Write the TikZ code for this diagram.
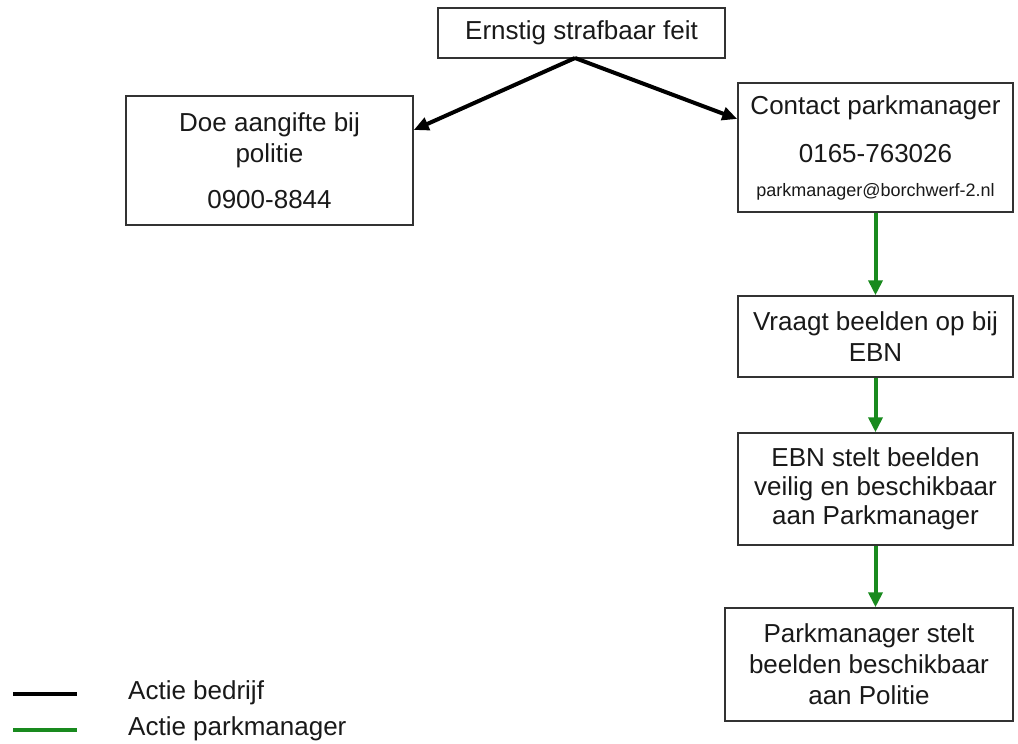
\documentclass[tikz,border=0pt]{standalone}
\usepackage{fontspec}
\setmainfont{Liberation Sans}
\usetikzlibrary{arrows.meta,calc}
\definecolor{boxline}{RGB}{50,50,50}
\definecolor{txt}{RGB}{25,25,25}
\definecolor{pmgreen}{RGB}{25,138,30}
\begin{document}
\begin{tikzpicture}[x=1pt,y=-1pt,
  box/.style={draw=boxline, line width=1.5pt, text=txt, align=center, inner sep=0pt, font=\fontsize{26}{31}\selectfont},
  bedrijf/.style={draw=black, line width=4pt, -{Triangle[length=15pt,width=13pt]}},
  pm/.style={draw=pmgreen, line width=4pt, -{Triangle[length=15pt,width=14pt]}},
  legline/.style={line width=4pt},
  legtext/.style={anchor=west, text=txt, font=\fontsize{26}{31}\selectfont, inner sep=0pt}]
\useasboundingbox (0,0) rectangle (1018,744);

\node[box, minimum width=287pt, minimum height=50pt] (feit) at (581.5,33) {Ernstig strafbaar feit};
\node[box, minimum width=287pt, minimum height=129pt] (aangifte) at (269.5,160.5)
  {Doe aangifte bij\\ politie\\[15pt] 0900-8844};
\node[box, minimum width=275pt, minimum height=129pt] (contact) at (875.5,147.5)
  {Contact parkmanager\\[17pt] 0165-763026\\[3pt] {\fontsize{18}{22}\selectfont parkmanager@borchwerf-2.nl}};
\node[box, minimum width=275pt, minimum height=81pt] (vraagt) at (875.5,336.5)
  {Vraagt beelden op bij\\ EBN};
\node[box, minimum width=275pt, minimum height=112pt] (ebn) at (875.5,489)
  {EBN stelt beelden\\[-2pt] veilig en beschikbaar\\[-2pt] aan Parkmanager};
\node[box, minimum width=288pt, minimum height=113pt] (park) at (869,664.5)
  {Parkmanager stelt\\ beelden beschikbaar\\ aan Politie};

\coordinate (split) at (575,58);
\draw[bedrijf] (split) -- (aangifte.east |- 0,130);
\draw[bedrijf] (split) -- (contact.west |- 0,119);

\draw[pm] (contact.south) -- (vraagt.north);
\draw[pm] (vraagt.south) -- (ebn.north);
\draw[pm] (ebn.south) -- (ebn.south |- park.north);

\coordinate (lb1) at (13,694);
\coordinate (lb2) at (77,694);
\coordinate (lg1) at (13,730);
\coordinate (lg2) at (77,730);
\draw[legline, black] (lb1) -- (lb2);
\draw[legline, pmgreen] (lg1) -- (lg2);
\node[legtext] (legb) at (128,693) {Actie bedrijf};
\node[legtext] (legp) at (128,729) {Actie parkmanager};
\end{tikzpicture}
\end{document}
